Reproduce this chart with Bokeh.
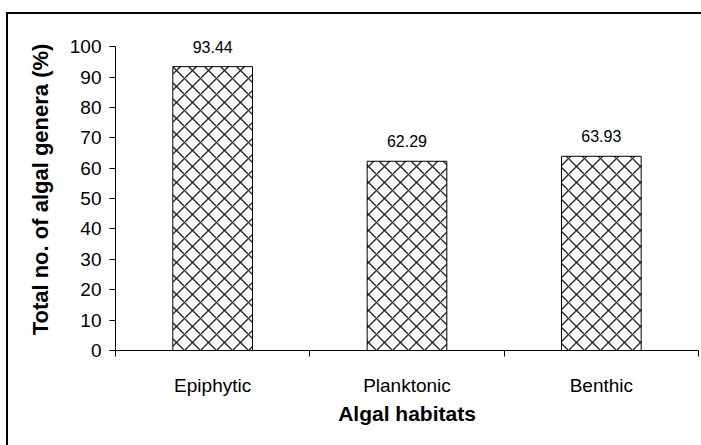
from bokeh.plotting import figure
from bokeh.models import ColumnDataSource, LabelSet, FixedTicker, Range1d, InlineStyleSheet
from bokeh.core.properties import value
from bokeh.embed import file_html
from bokeh.resources import INLINE

# Data
habitats = ["Epiphytic", "Planktonic", "Benthic"]
genera_pct = [93.44, 62.29, 63.93]
y_ticks = [0, 10, 20, 30, 40, 50, 60, 70, 80, 90, 100]

FONT = "Liberation Sans"

centers = [i + 0.5 for i in range(len(habitats))]
source = ColumnDataSource(data=dict(
    x=centers,
    top=genera_pct,
    label=[f"{v:.2f}" for v in genera_pct],
))

# headroom above 100 keeps the value labels inside the frame;
# the y axis itself is bounded to 0-100
p = figure(
    width=693, height=431,
    x_range=Range1d(0, len(habitats)),
    y_range=Range1d(0, 106),
    output_backend="svg",
    toolbar_location=None,
    min_border_left=107, min_border_right=3,
    min_border_top=14, min_border_bottom=95,
)
p.margin = (14, 0, 0, 8)
# chart-area frame drawn around the whole figure
p.stylesheets = [InlineStyleSheet(css=":host { outline: 2px solid #000; }")]

p.background_fill_color = "white"
p.border_fill_color = "white"
p.outline_line_color = None
p.xgrid.visible = False
p.ygrid.visible = False

p.vbar(
    x="x", top="top", width=0.41, bottom=0, source=source,
    fill_color="white", line_color="black", line_width=1,
    hatch_pattern="diagonal_cross", hatch_scale=16,
    hatch_color="#222222", hatch_weight=1.3,
)

labels = LabelSet(
    x="x", y="top", text="label", source=source,
    y_offset=20, text_align="center", text_baseline="middle",
    text_font=value(FONT), text_font_size=value("16px"), text_color="black",
)
p.add_layout(labels)

# x axis: category names centred, ticks on the category boundaries
xa = p.xaxis[0]
xa.ticker = FixedTicker(ticks=centers, minor_ticks=list(range(len(habitats) + 1)))
xa.major_label_overrides = {c: h for c, h in zip(centers, habitats)}
xa.major_tick_out = 0
xa.major_tick_in = 0
xa.minor_tick_out = 6
xa.minor_tick_in = 0
xa.minor_tick_line_color = "black"
xa.axis_line_color = "black"
xa.major_label_standoff = 18
xa.major_label_text_font = FONT
xa.major_label_text_font_size = "19px"
xa.major_label_text_color = "black"
xa.axis_label = "Algal habitats"
xa.axis_label_text_font = FONT
xa.axis_label_text_font_size = "21px"
xa.axis_label_text_font_style = "bold"
xa.axis_label_text_color = "black"
xa.axis_label_standoff = 3

ya = p.yaxis[0]
ya.bounds = (0, 100)
ya.ticker = FixedTicker(ticks=y_ticks, minor_ticks=[])
ya.major_tick_out = 6
ya.major_tick_in = 0
ya.major_tick_line_color = "black"
ya.axis_line_color = "black"
ya.major_label_standoff = 8
ya.major_label_text_font = FONT
ya.major_label_text_font_size = "19px"
ya.major_label_text_color = "black"
ya.axis_label = "Total no. of algal genera (%)"
ya.axis_label_text_font = FONT
ya.axis_label_text_font_size = "22px"
ya.axis_label_text_font_style = "bold"
ya.axis_label_text_color = "black"
ya.axis_label_standoff = 14

open("out.html", "w").write(file_html(p, INLINE))
